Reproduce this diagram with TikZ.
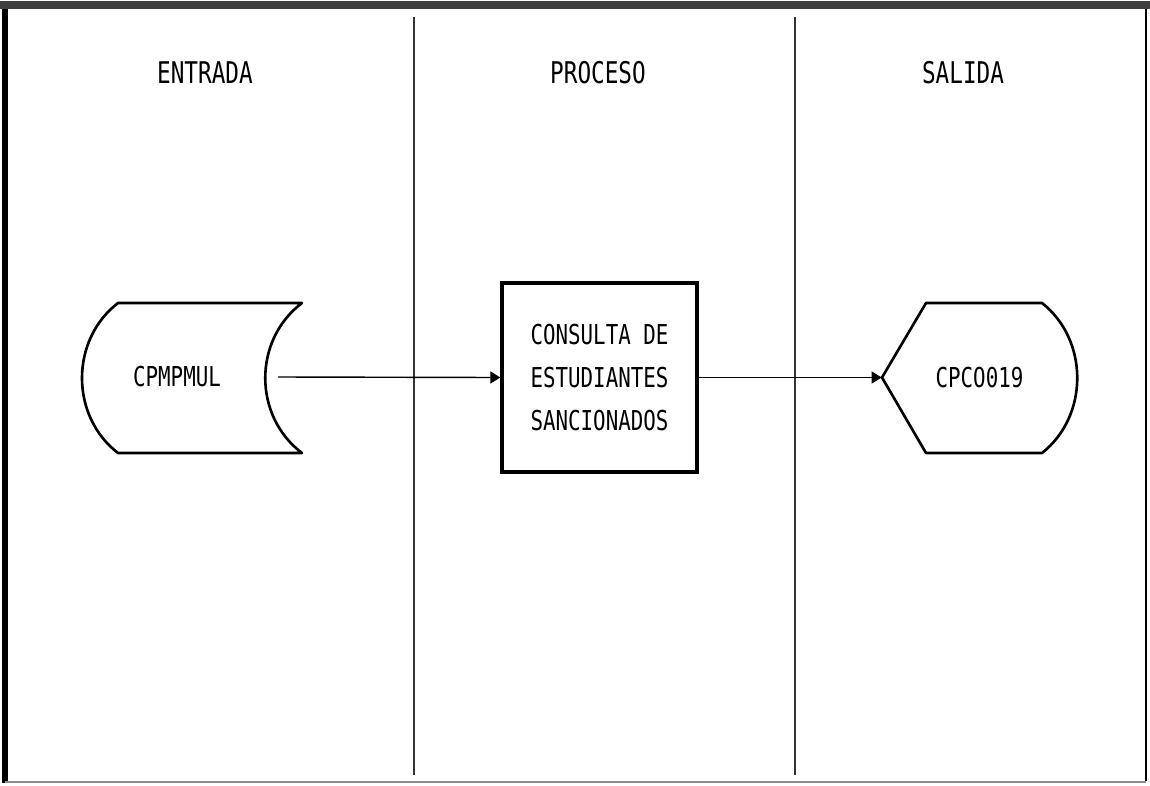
\documentclass[tikz,border=0pt]{standalone}
\usepackage{fontspec}
\newfontfamily\plotfont[FakeStretch=0.76]{DejaVu Sans Mono}
\usetikzlibrary{arrows.meta}

\begin{document}
\begin{tikzpicture}[x=0.02cm, y=-0.02cm, header/.style={font=\plotfont\fontsize{17}{20}\selectfont, inner sep=0pt}, plain/.style={font=\plotfont\fontsize{15.6}{24.5}\selectfont, align=center, inner sep=0pt}, processbox/.style={plain, draw, line width=1.9pt, minimum width=3.9cm, minimum height=3.78cm}, symbol/.style={line width=1.5pt, line join=round}, flow/.style={-{Triangle[length=0.2cm, width=0.24cm]}, line width=0.8pt}]
		\useasboundingbox (0,0) rectangle (1150,785);
		% frame and lanes
		\draw[line width=3pt] (5,6) -- (5,783);
		\draw[line width=1.5pt] (1146,6) -- (1146,781);
		\draw[line width=1.2pt, black!45] (5,782) -- (1146,782);
		\draw[line width=4.5pt, black!75] (0,5) -- (1150,5);
		\draw[line width=0.6pt, black!80] (414,17) -- (414,775);
		\draw[line width=0.6pt, black!80] (795,17) -- (795,775);
		\node[header] (entrada) at (205,73) {ENTRADA};
		\node[header] (proceso) at (598,73) {PROCESO};
		\node[header] (salida) at (963,73) {SALIDA};
		% input file
		\node[plain] (cpmpmul) at (177,377) {CPMPMUL};
		\draw[symbol] (302,303) -- (118,303) .. controls (70,340) and (70,416) .. (118,453) -- (302,453) .. controls (253,416) and (253,340) .. (302,303) -- cycle;
		\coordinate (cpmpmul out) at (278,377);
		% process
		\node[processbox] (consulta) at (599.5,377.5) {CONSULTA DE\\ESTUDIANTES\\SANCIONADOS};
		% output display
		\node[plain, minimum width=3.9cm, minimum height=3cm] (cpco) at (979.5,377.5) {CPCO019};
		\draw[symbol] (926,303) -- (1042,303) .. controls (1089,340) and (1089,416) .. (1042,453) -- (926,453) -- (882,377.5) -- cycle;
		\draw[flow] (cpmpmul out) -- (consulta.west);
		\draw[flow] (consulta.east) -- (cpco.west);
	\end{tikzpicture}
\end{document}
